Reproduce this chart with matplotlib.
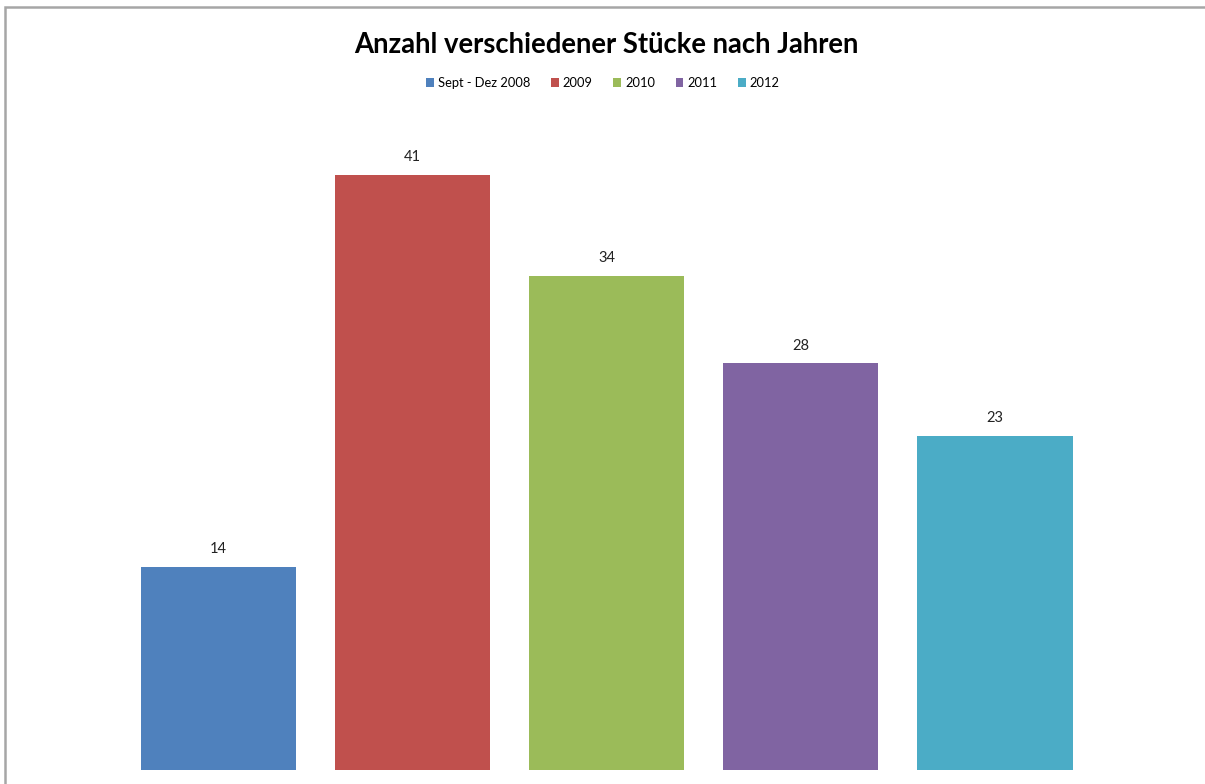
import matplotlib.pyplot as plt
from matplotlib.patches import Rectangle

categories = ['Sept - Dez 2008', '2009', '2010', '2011', '2012']
values = [14, 41, 34, 28, 23]
colors = ['#4f81bd', '#c0504d', '#9bbb59', '#8064a2', '#4bacc6']

plt.rcParams['font.family'] = ['Lato', 'DejaVu Sans']

W, H = 1205, 784
fig = plt.figure(figsize=(W / 100, H / 100), dpi=100)

# chart frame (only left and top edges visible)
fig.patches.append(Rectangle((5 / W, -0.1), 1.2, 1 - 7 / H + 0.1, transform=fig.transFigure,
                             fill=False, edgecolor='#a6a6a6', linewidth=1.8))

ax = fig.add_axes([121.5 / W, 14 / H, 970.5 / W, 45 * 14.52 / H])
x = range(len(values))
bars = ax.bar(x, values, width=0.8, color=colors, label=categories)
for b, v in zip(bars, values):
    ax.text(b.get_x() + b.get_width() / 2, v + 0.75, str(v), ha='center', va='bottom',
            fontsize=10.5, color='#222222')

ax.set_xlim(-0.5, len(values) - 0.5)
ax.set_ylim(0, 45)
ax.axis('off')

fig.text(606 / W, 1 - 45 / H, 'Anzahl verschiedener Stücke nach Jahren', ha='center', va='center',
         fontsize=19.8, fontweight='bold')
fig.legend(bars, categories, loc='center', bbox_to_anchor=(603 / W, 1 - 83 / H), ncol=5,
           frameon=False, fontsize=9.3, handlelength=0.6, handleheight=0.6,
           handletextpad=0.3, columnspacing=1.6)

fig.savefig('out.png', dpi=100)
